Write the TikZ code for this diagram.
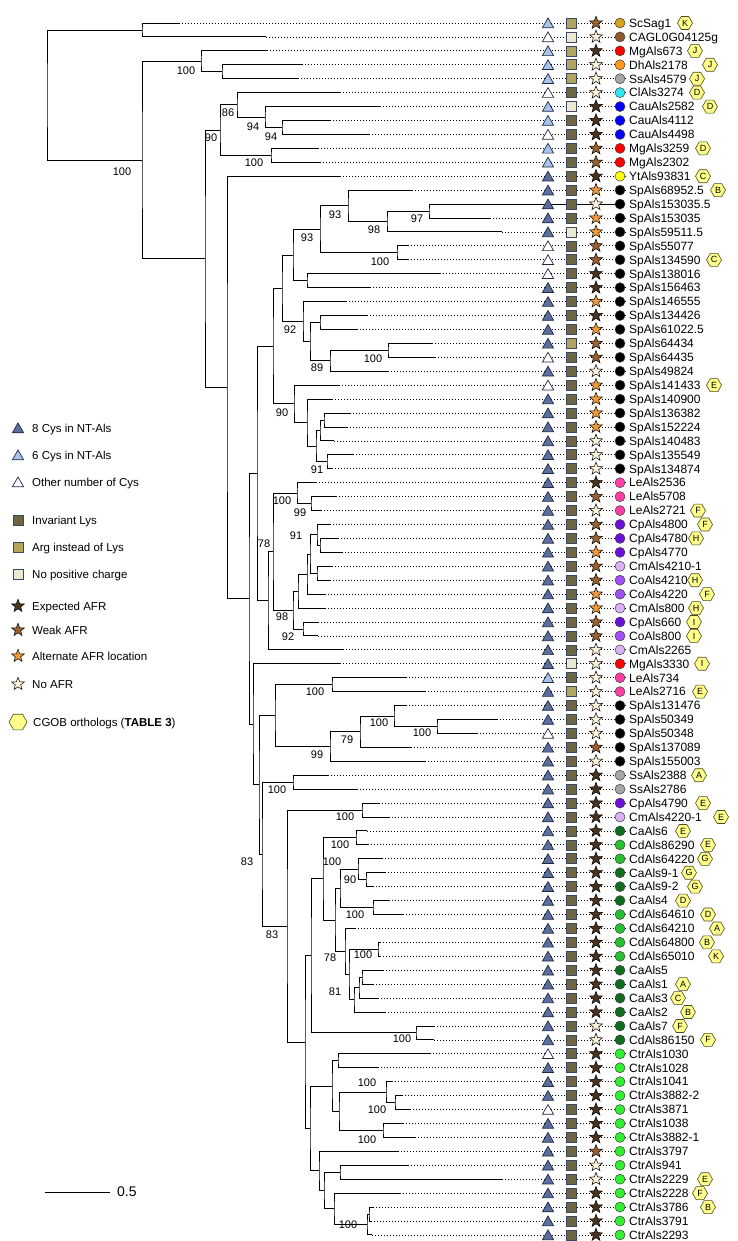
\documentclass[tikz,border=0pt]{standalone}
\usepackage{fontspec}
\setmainfont{Liberation Sans}
\usetikzlibrary{shapes.geometric,calc}
\pgfdeclarelayer{paper}
\pgfdeclarelayer{background}
\pgfsetlayers{paper,background,main}
\definecolor{triD}{HTML}{5B6E9C}
\definecolor{triL}{HTML}{A8C4EA}
\definecolor{triE}{HTML}{1F2B45}
\definecolor{sqKc}{HTML}{6E6542}
\definecolor{sqRc}{HTML}{B3A45E}
\definecolor{sqPc}{HTML}{ECE8D2}
\definecolor{sqE}{HTML}{3A4868}
\definecolor{stDc}{HTML}{4A3420}
\definecolor{stWc}{HTML}{9A6232}
\definecolor{stOc}{HTML}{EE9A3C}
\definecolor{stNc}{HTML}{FBF0D8}
\definecolor{hexF}{HTML}{FFFF8A}
\definecolor{hexE}{HTML}{4A4A20}
\definecolor{cgold}{HTML}{D4A21C}
\definecolor{cbrown}{HTML}{8C5A2C}
\definecolor{cred}{HTML}{FF0000}
\definecolor{corange}{HTML}{FF9A1A}
\definecolor{cgrey}{HTML}{A6A6A6}
\definecolor{ccyan}{HTML}{30E8F0}
\definecolor{cblue}{HTML}{0000FF}
\definecolor{cyellow}{HTML}{FFFF00}
\definecolor{cblack}{HTML}{000000}
\definecolor{cpink}{HTML}{FF3EA5}
\definecolor{ccp}{HTML}{6A10D8}
\definecolor{ccm}{HTML}{DCB0F5}
\definecolor{cco}{HTML}{A050F5}
\definecolor{cca}{HTML}{0E6E1E}
\definecolor{ccd}{HTML}{26C030}
\definecolor{cctr}{HTML}{30F030}
\tikzset{
  tribase/.style={regular polygon, regular polygon sides=3, minimum size=13pt, inner sep=0pt, draw=triE, line width=0.7pt, yshift=-1.5pt},
  tri8/.style={tribase, fill=triD},
  tri6/.style={tribase, fill=triL},
  triO/.style={tribase, fill=white},
  sqbase/.style={rectangle, minimum size=10pt, inner sep=0pt, draw=sqE, line width=0.7pt},
  sqK/.style={sqbase, fill=sqKc},
  sqR/.style={sqbase, fill=sqRc},
  sqP/.style={sqbase, fill=sqPc},
  stbase/.style={star, star points=5, star point ratio=2.4, minimum size=13.5pt, inner sep=0pt, draw=black, line width=0.5pt},
  stD/.style={stbase, fill=stDc},
  stW/.style={stbase, fill=stWc},
  stO/.style={stbase, fill=stOc},
  stN/.style={stbase, fill=stNc},
  dotc/.style={circle, minimum size=10pt, inner sep=0pt, draw=black!75, line width=0.5pt},
  hex/.style={regular polygon, regular polygon sides=6, minimum size=15pt, inner sep=0pt, draw=hexE, fill=hexF, line width=0.6pt, font=\fontsize{9}{9}\selectfont},
  lab/.style={anchor=west, inner sep=0pt, text height=8.6pt, text depth=0pt, font=\fontsize{12}{13}\selectfont},
  leg/.style={anchor=west, inner sep=0pt, text height=8.2pt, text depth=0pt, font=\fontsize{11.5}{12}\selectfont},
  bsl/.style={inner sep=0pt, font=\fontsize{11}{11}\selectfont},
  br/.style={line width=0.9pt},
  dots/.style={line width=0.8pt, dash pattern=on 0.8pt off 2.2pt}
}
% internal node: name, x, child1, child2
\newcommand\cl[4]{%
  \path let \p1=(#3), \p2=(#4) in ({#2pt},{0.5*\y1+0.5*\y2}) coordinate (#1);
  \begin{pgfonlayer}{background}\draw[br] (#3) -| (#1) |- (#4);\end{pgfonlayer}}
% leaf: row, branch end, triangle, square, star, circle colour, label, hexagon letter, hexagon x
\newcommand\lf[9]{%
  \pgfmathsetmacro\yy{23+13.93*(#1-1)}%
  \coordinate (l#1) at (#2,\yy);
  \coordinate (e#1) at (626,\yy);
  \begin{pgfonlayer}{background}\draw[dots] (l#1) -- (e#1);\end{pgfonlayer}
  \node[#3] (tr#1) at (548,\yy) {};
  \node[#4] (sq#1) at (571,\yy) {};
  \node[#5] (st#1) at (596,\yy) {};
  \node[dotc, fill=#6] (ci#1) at (620,\yy) {};
  \node[lab] (nm#1) at (629,\yy) {#7};
  \ifx\relax#8\relax\else\node[hex] (hx#1) at (#9,\yy) {#8};\fi}
\begin{document}
\begin{tikzpicture}[x=1pt,y=-1pt]
\useasboundingbox (0,0) rectangle (738,1241);
\begin{pgfonlayer}{paper}\fill[white] (0,0) rectangle (738,1241);\end{pgfonlayer}
% ---------------- leaves
\lf{1}{179}{tri6}{sqR}{stW}{cgold}{ScSag1}{K}{685}
\lf{2}{266}{triO}{sqP}{stN}{cbrown}{CAGL0G04125g}{}{0}
\lf{3}{267}{tri6}{sqR}{stD}{cred}{MgAls673}{J}{695}
\lf{4}{302}{tri6}{sqR}{stN}{corange}{DhAls2178}{J}{710}
\lf{5}{298}{tri6}{sqR}{stN}{cgrey}{SsAls4579}{J}{697}
\lf{6}{340}{triO}{sqK}{stN}{ccyan}{ClAls3274}{D}{697}
\lf{7}{380}{tri6}{sqP}{stD}{cblue}{CauAls2582}{D}{710}
\lf{8}{330}{tri6}{sqK}{stD}{cblue}{CauAls4112}{}{0}
\lf{9}{369}{triO}{sqK}{stD}{cblue}{CauAls4498}{}{0}
\lf{10}{318}{tri6}{sqK}{stW}{cred}{MgAls3259}{D}{703}
\lf{11}{320}{tri6}{sqK}{stW}{cred}{MgAls2302}{}{0}
\lf{12}{340}{tri8}{sqK}{stD}{cyellow}{YtAls93831}{C}{703}
\lf{13}{412}{tri8}{sqK}{stO}{cblack}{SpAls68952.5}{B}{718}
\lf{14}{615}{tri8}{sqK}{stN}{cblack}{SpAls153035.5}{}{0}
\lf{15}{490}{tri8}{sqK}{stO}{cblack}{SpAls153035}{}{0}
\lf{16}{502}{tri8}{sqP}{stO}{cblack}{SpAls59511.5}{}{0}
\lf{17}{408}{triO}{sqK}{stW}{cblack}{SpAls55077}{}{0}
\lf{18}{408}{triO}{sqK}{stW}{cblack}{SpAls134590}{C}{714}
\lf{19}{440}{triO}{sqK}{stD}{cblack}{SpAls138016}{}{0}
\lf{20}{370}{tri8}{sqK}{stD}{cblack}{SpAls156463}{}{0}
\lf{21}{346}{tri8}{sqK}{stO}{cblack}{SpAls146555}{}{0}
\lf{22}{367}{tri8}{sqK}{stD}{cblack}{SpAls134426}{}{0}
\lf{23}{357}{tri8}{sqK}{stO}{cblack}{SpAls61022.5}{}{0}
\lf{24}{432}{tri8}{sqR}{stW}{cblack}{SpAls64434}{}{0}
\lf{25}{435}{triO}{sqK}{stW}{cblack}{SpAls64435}{}{0}
\lf{26}{388}{tri8}{sqK}{stN}{cblack}{SpAls49824}{}{0}
\lf{27}{339}{triO}{sqK}{stO}{cblack}{SpAls141433}{E}{714}
\lf{28}{332}{tri8}{sqK}{stO}{cblack}{SpAls140900}{}{0}
\lf{29}{350}{tri8}{sqK}{stO}{cblack}{SpAls136382}{}{0}
\lf{30}{347}{tri8}{sqK}{stO}{cblack}{SpAls152224}{}{0}
\lf{31}{334}{tri8}{sqK}{stN}{cblack}{SpAls140483}{}{0}
\lf{32}{353}{tri8}{sqK}{stN}{cblack}{SpAls135549}{}{0}
\lf{33}{332}{tri8}{sqK}{stN}{cblack}{SpAls134874}{}{0}
\lf{34}{316}{tri8}{sqK}{stD}{cpink}{LeAls2536}{}{0}
\lf{35}{336}{tri8}{sqK}{stW}{cpink}{LeAls5708}{}{0}
\lf{36}{321}{tri8}{sqK}{stN}{cpink}{LeAls2721}{F}{698}
\lf{37}{330}{tri8}{sqK}{stW}{ccp}{CpAls4800}{F}{705}
\lf{38}{338}{tri8}{sqK}{stW}{ccp}{CpAls4780}{H}{696}
\lf{39}{342}{tri8}{sqK}{stO}{ccp}{CpAls4770}{}{0}
\lf{40}{332}{tri8}{sqK}{stW}{ccm}{CmAls4210-1}{}{0}
\lf{41}{330}{tri8}{sqK}{stW}{cco}{CoAls4210}{H}{695}
\lf{42}{325}{tri8}{sqK}{stO}{cco}{CoAls4220}{F}{707}
\lf{43}{325}{tri8}{sqK}{stO}{ccm}{CmAls800}{H}{696}
\lf{44}{318}{tri8}{sqK}{stW}{ccp}{CpAls660}{I}{694}
\lf{45}{318}{tri8}{sqK}{stW}{cco}{CoAls800}{I}{694}
\lf{46}{343}{tri8}{sqK}{stN}{ccm}{CmAls2265}{}{0}
\lf{47}{340}{tri8}{sqP}{stN}{cred}{MgAls3330}{I}{702}
\lf{48}{406}{tri6}{sqK}{stN}{cpink}{LeAls734}{}{0}
\lf{49}{425}{tri8}{sqR}{stN}{cpink}{LeAls2716}{E}{700}
\lf{50}{406}{tri8}{sqK}{stN}{cblack}{SpAls131476}{}{0}
\lf{51}{497}{tri8}{sqK}{stN}{cblack}{SpAls50349}{}{0}
\lf{52}{477}{triO}{sqK}{stN}{cblack}{SpAls50348}{}{0}
\lf{53}{411}{tri8}{sqK}{stW}{cblack}{SpAls137089}{}{0}
\lf{54}{425}{tri8}{sqK}{stN}{cblack}{SpAls155003}{}{0}
\lf{55}{328}{tri8}{sqK}{stD}{cgrey}{SsAls2388}{A}{699}
\lf{56}{357}{tri8}{sqK}{stD}{cgrey}{SsAls2786}{}{0}
\lf{57}{379}{tri8}{sqK}{stD}{ccp}{CpAls4790}{E}{703}
\lf{58}{389}{tri8}{sqK}{stD}{ccm}{CmAls4220-1}{E}{721}
\lf{59}{367}{tri8}{sqK}{stD}{cca}{CaAls6}{E}{683}
\lf{60}{368}{tri8}{sqK}{stD}{ccd}{CdAls86290}{E}{708}
\lf{61}{382}{tri8}{sqK}{stD}{ccd}{CdAls64220}{G}{705}
\lf{62}{385}{tri8}{sqK}{stD}{cca}{CaAls9-1}{G}{689}
\lf{63}{373}{tri8}{sqK}{stD}{cca}{CaAls9-2}{G}{695}
\lf{64}{389}{tri8}{sqK}{stD}{cca}{CaAls4}{D}{683}
\lf{65}{403}{tri8}{sqK}{stD}{ccd}{CdAls64610}{D}{708}
\lf{66}{355}{tri8}{sqK}{stD}{ccd}{CdAls64210}{A}{717}
\lf{67}{380}{tri8}{sqK}{stD}{ccd}{CdAls64800}{B}{707}
\lf{68}{380}{tri8}{sqK}{stD}{ccd}{CdAls65010}{K}{716}
\lf{69}{383}{tri8}{sqK}{stD}{cca}{CaAls5}{}{0}
\lf{70}{373}{tri8}{sqK}{stD}{cca}{CaAls1}{A}{683}
\lf{71}{378}{tri8}{sqK}{stD}{cca}{CaAls3}{C}{678}
\lf{72}{385}{tri8}{sqK}{stD}{cca}{CaAls2}{B}{688}
\lf{73}{434}{tri8}{sqK}{stN}{cca}{CaAls7}{F}{680}
\lf{74}{434}{tri8}{sqK}{stN}{cca}{CdAls86150}{F}{708}
\lf{75}{430}{triO}{sqK}{stD}{cctr}{CtrAls1030}{}{0}
\lf{76}{378}{tri8}{sqK}{stD}{cctr}{CtrAls1028}{}{0}
\lf{77}{392}{tri8}{sqK}{stD}{cctr}{CtrAls1041}{}{0}
\lf{78}{402}{tri8}{sqK}{stD}{cctr}{CtrAls3882-2}{}{0}
\lf{79}{410}{triO}{sqK}{stD}{cctr}{CtrAls3871}{}{0}
\lf{80}{403}{tri8}{sqK}{stD}{cctr}{CtrAls1038}{}{0}
\lf{81}{415}{tri8}{sqK}{stD}{cctr}{CtrAls3882-1}{}{0}
\lf{82}{398}{tri8}{sqK}{stW}{cctr}{CtrAls3797}{}{0}
\lf{83}{408}{tri8}{sqK}{stN}{cctr}{CtrAls941}{}{0}
\lf{84}{502}{tri8}{sqK}{stN}{cctr}{CtrAls2229}{E}{705}
\lf{85}{400}{tri8}{sqK}{stD}{cctr}{CtrAls2228}{F}{700}
\lf{86}{373}{tri8}{sqK}{stD}{cctr}{CtrAls3786}{B}{708}
\lf{87}{371}{tri8}{sqK}{stD}{cctr}{CtrAls3791}{}{0}
\lf{88}{372}{tri8}{sqK}{stD}{cctr}{CtrAls2293}{}{0}
% ---------------- tree
\cl{A}{142}{l1}{l2}
\cl{D}{222}{l4}{l5}
\cl{C}{201}{l3}{D}
\cl{I}{282}{l8}{l9}
\cl{H}{265}{l7}{I}
\cl{G}{237}{l6}{H}
\cl{J}{271}{l10}{l11}
\cl{F}{220}{G}{J}
\cl{s1}{429}{l14}{l15}
\cl{s2}{387}{s1}{l16}
\cl{s3}{348}{l13}{s2}
\cl{s4}{397}{l17}{l18}
\cl{s5}{320}{s3}{s4}
\cl{s6}{307}{l19}{l20}
\cl{s7}{293}{s5}{s6}
\cl{s8}{320}{l22}{l23}
\cl{s9}{388}{l24}{l25}
\cl{s10}{330}{s9}{l26}
\cl{s11}{310}{s8}{s10}
\cl{s12}{303}{l21}{s11}
\cl{s13}{282}{s7}{s12}
\cl{s14}{324}{l29}{l30}
\cl{s15}{320}{s14}{l31}
\cl{s16}{327}{l32}{l33}
\cl{s17}{316}{s15}{s16}
\cl{s18}{307}{l28}{s17}
\cl{s19}{294}{l27}{s18}
\cl{s20}{273}{s13}{s19}
\cl{c1}{311}{l35}{l36}
\cl{c2}{297}{l34}{c1}
\cl{c3}{320}{l38}{l39}
\cl{c4}{317}{l37}{c3}
\cl{c5}{317}{l40}{l41}
\cl{c6}{310}{c4}{c5}
\cl{c7}{307}{c6}{l42}
\cl{c8}{298}{c7}{l43}
\cl{c9}{303}{l44}{l45}
\cl{c10}{293}{c8}{c9}
\cl{c11}{273}{c2}{c10}
\cl{c12}{268}{c11}{l46}
\cl{N}{257}{s20}{c12}
\cl{e1}{437}{l51}{l52}
\cl{e2}{394}{l50}{e1}
\cl{e3}{360}{e2}{l53}
\cl{e4}{330}{e3}{l54}
\cl{e5}{332}{l48}{l49}
\cl{e6}{275}{e5}{e4}
\cl{e7}{293}{l55}{l56}
\cl{a1}{362}{l57}{l58}
\cl{a2}{356}{l59}{l60}
\cl{a3}{366}{l62}{l63}
\cl{a4}{358}{l61}{a3}
\cl{a5}{373}{l64}{l65}
\cl{a6}{340}{a4}{a5}
\cl{a7}{378}{l67}{l68}
\cl{a8}{362}{l69}{l70}
\cl{a9}{359}{a8}{l71}
\cl{a10}{354}{a9}{l72}
\cl{a11}{349}{a7}{a10}
\cl{a12}{345}{l66}{a11}
\cl{a13}{335}{a6}{a12}
\cl{a14}{323}{a2}{a13}
\cl{a15}{416}{l73}{l74}
\cl{a16}{311}{a14}{a15}
\cl{t1}{338}{l75}{l76}
\cl{t2}{395}{l78}{l79}
\cl{t3}{386}{l77}{t2}
\cl{t4}{383}{l80}{l81}
\cl{t5}{339}{t3}{t4}
\cl{t6}{332}{t1}{t5}
\cl{t7}{340}{l83}{l84}
\cl{t8}{369}{l86}{l87}
\cl{t9}{367}{t8}{l88}
\cl{t10}{334}{l85}{t9}
\cl{t11}{324}{t7}{t10}
\cl{t12}{319}{l82}{t11}
\cl{t13}{310}{t6}{t12}
\cl{t14}{305}{a16}{t13}
\cl{P}{287}{a1}{t14}
\cl{Q}{262}{e7}{P}
\cl{R}{259}{e6}{Q}
\cl{S}{253}{l47}{R}
\cl{M}{249}{N}{S}
\cl{L}{227}{l12}{M}
\cl{K}{205}{F}{L}
\cl{B}{142}{C}{K}
\cl{root}{47}{A}{B}
% ---------------- support values
\node[bsl] (b1) at (122,172) {100};
\node[bsl] (b2) at (186,71) {100};
\node[bsl] (b3) at (228,113) {86};
\node[bsl] (b4) at (211,138) {90};
\node[bsl] (b5) at (253,127) {94};
\node[bsl] (b6) at (271,137) {94};
\node[bsl] (b7) at (254,163) {100};
\node[bsl] (b8) at (335,215) {93};
\node[bsl] (b9) at (417,219) {97};
\node[bsl] (b10) at (374,230) {98};
\node[bsl] (b11) at (307,238) {93};
\node[bsl] (b12) at (380,262) {100};
\node[bsl] (b13) at (290,330) {92};
\node[bsl] (b14) at (373,359) {100};
\node[bsl] (b15) at (317,368) {89};
\node[bsl] (b16) at (282,413) {90};
\node[bsl] (b17) at (317,470) {91};
\node[bsl] (b18) at (282,501) {100};
\node[bsl] (b19) at (300,513) {99};
\node[bsl] (b20) at (296,536) {91};
\node[bsl] (b21) at (264,544) {78};
\node[bsl] (b22) at (282,617) {98};
\node[bsl] (b23) at (288,637) {92};
\node[bsl] (b24) at (315,692) {100};
\node[bsl] (b25) at (379,723) {100};
\node[bsl] (b26) at (422,733) {100};
\node[bsl] (b27) at (347,740) {79};
\node[bsl] (b28) at (317,755) {99};
\node[bsl] (b29) at (277,790) {100};
\node[bsl] (b30) at (247,862) {83};
\node[bsl] (b31) at (345,817) {100};
\node[bsl] (b32) at (340,845) {100};
\node[bsl] (b33) at (332,862) {100};
\node[bsl] (b34) at (350,880) {90};
\node[bsl] (b35) at (355,915) {100};
\node[bsl] (b36) at (272,935) {83};
\node[bsl] (b37) at (330,958) {78};
\node[bsl] (b38) at (363,955) {100};
\node[bsl] (b39) at (335,992) {81};
\node[bsl] (b40) at (402,1039) {100};
\node[bsl] (b41) at (367,1083) {100};
\node[bsl] (b42) at (377,1110) {100};
\node[bsl] (b43) at (367,1140) {100};
\node[bsl] (b44) at (348,1225) {100};
% ---------------- legend
\node[tri8] (g1) at (18,428) {};  \node[leg] (gt1) at (32,428) {8 Cys in NT-Als};
\node[tri6] (g2) at (18,455) {};  \node[leg] (gt2) at (32,455) {6 Cys in NT-Als};
\node[triO] (g3) at (18,482) {};  \node[leg] (gt3) at (32,482) {Other number of Cys};
\node[sqK] (g4) at (18,520) {};   \node[leg] (gt4) at (32,520) {Invariant Lys};
\node[sqR] (g5) at (18,547) {};   \node[leg] (gt5) at (32,547) {Arg instead of Lys};
\node[sqP] (g6) at (18,574) {};   \node[leg] (gt6) at (32,574) {No positive charge};
\node[stD] (g7) at (18,606) {};   \node[leg] (gt7) at (32,606) {Expected AFR};
\node[stW] (g8) at (18,630) {};   \node[leg] (gt8) at (32,630) {Weak AFR};
\node[stO] (g9) at (18,656) {};   \node[leg] (gt9) at (32,656) {Alternate AFR location};
\node[stN] (g10) at (18,684) {};  \node[leg] (gt10) at (32,684) {No AFR};
\node[hex, minimum size=18pt] (g11) at (18,722) {}; \node[leg] (gt11) at (33,722) {CGOB orthologs (\textbf{TABLE 3})};
% ---------------- scale bar
\coordinate (sb1) at (45,1192);
\coordinate (sb2) at (110,1192);
\draw[br] (sb1) -- (sb2);
\node[anchor=west, inner sep=0pt, font=\fontsize{14}{15}\selectfont] (sbl) at (117,1192) {0.5};
\end{tikzpicture}
\end{document}
